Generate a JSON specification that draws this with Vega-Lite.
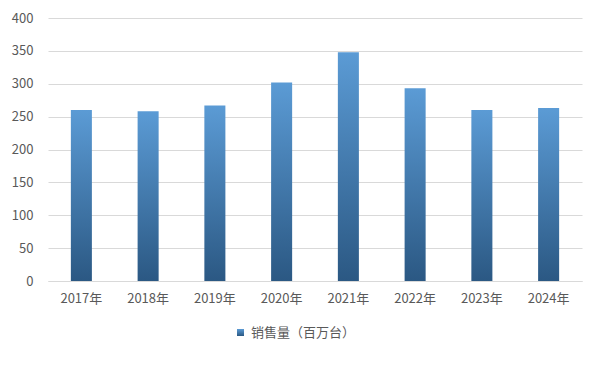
{
  "$schema": "https://vega.github.io/schema/vega-lite/v6.json",
  "autosize": {"type": "none"},
  "width": 534,
  "height": 263,
  "padding": {"left": 48, "top": 18, "right": 19, "bottom": 85},
  "background": "white",
  "config": {
    "view": {"stroke": null},
    "font": "Noto Sans CJK SC",
    "axis": {"labelFont": "Noto Sans CJK SC", "labelFontSize": 13, "labelColor": "#595959", "gridColor": "#d9d9d9", "gridWidth": 1}
  },
  "data": {
    "values": [
      {"year": "2017年", "value": 260, "series": "销售量（百万台）"},
      {"year": "2018年", "value": 258, "series": "销售量（百万台）"},
      {"year": "2019年", "value": 267, "series": "销售量（百万台）"},
      {"year": "2020年", "value": 302, "series": "销售量（百万台）"},
      {"year": "2021年", "value": 348, "series": "销售量（百万台）"},
      {"year": "2022年", "value": 293, "series": "销售量（百万台）"},
      {"year": "2023年", "value": 260, "series": "销售量（百万台）"},
      {"year": "2024年", "value": 263, "series": "销售量（百万台）"}
    ]
  },
  "mark": {
    "type": "bar",
    "fill": {
      "gradient": "linear", "x1": 0, "y1": 0, "x2": 0, "y2": 1,
      "stops": [{"offset": 0, "color": "#5B9BD5"}, {"offset": 1, "color": "#2B5883"}]
    },
    "strokeWidth": 0
  },
  "encoding": {
    "x": {
      "field": "year", "type": "nominal", "title": null, "sort": null,
      "scale": {"paddingInner": 0.685, "paddingOuter": 0.3425},
      "axis": {"labelAngle": 0, "ticks": false, "domain": true, "domainColor": "#d9d9d9", "labelPadding": 11, "grid": false}
    },
    "y": {
      "field": "value", "type": "quantitative", "title": null,
      "scale": {"domain": [0, 400], "nice": false},
      "axis": {"values": [0, 50, 100, 150, 200, 250, 300, 350, 400], "ticks": false, "domain": false, "labelPadding": 15, "grid": true}
    },
    "stroke": {
      "field": "series", "type": "nominal", "title": null,
      "scale": {"range": ["#4A86C5"]},
      "legend": {
        "orient": "none", "legendX": 186, "legendY": 308,
        "symbolType": "square", "symbolSize": 49,
        "labelFontSize": 13, "labelColor": "#595959", "labelFont": "Noto Sans CJK SC",
        "symbolStrokeWidth": 0,
        "encode": {"symbols": {"update": {"fill": {"value": "#4A86C5"}, "stroke": {"value": "transparent"}}}}
      }
    }
  }
}
